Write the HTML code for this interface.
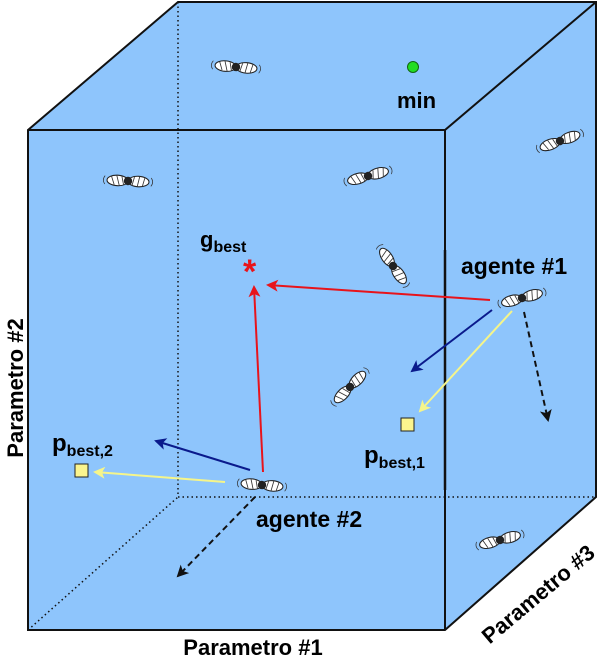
<!DOCTYPE html>
<html><head><style>body{margin:0;background:#fff}svg{display:block}text{font-family:"Liberation Sans",sans-serif;font-weight:bold;fill:#000}</style></head><body>
<svg width="600" height="657" viewBox="0 0 600 657">
<defs>
<g id="d">
<ellipse cx="-10" cy="0" rx="10" ry="5" fill="#fff" stroke="#222" stroke-width="1"/>
<ellipse cx="10" cy="0" rx="10" ry="5" fill="#fff" stroke="#222" stroke-width="1"/>
<path d="M-16 -4 L-13 4 M-11 -5 L-8 5 M-6 -4 L-4 4 M6 -4 L4 4 M11 -5 L9 5 M16 -4 L14 4" stroke="#333" stroke-width="0.8"/>
<path d="M-22 -4 Q-25 0 -22 4 M22 -4 Q25 0 22 4" stroke="#333" fill="none" stroke-width="0.7"/>
<circle r="4" fill="#222"/>
</g>
<marker id="ar" markerWidth="12" markerHeight="12" refX="10" refY="6" orient="auto" markerUnits="userSpaceOnUse"><path d="M0 0 L12 6 L0 12 L3 6Z" fill="#e8141b"/></marker>
<marker id="ab" markerWidth="12" markerHeight="12" refX="10" refY="6" orient="auto" markerUnits="userSpaceOnUse"><path d="M0 0 L12 6 L0 12 L3 6Z" fill="#0a1a8c"/></marker>
<marker id="ay" markerWidth="12" markerHeight="12" refX="10" refY="6" orient="auto" markerUnits="userSpaceOnUse"><path d="M0 0 L12 6 L0 12 L3 6Z" fill="#f5f58a"/></marker>
<marker id="ak" markerWidth="12" markerHeight="12" refX="10" refY="6" orient="auto" markerUnits="userSpaceOnUse"><path d="M0 0 L12 6 L0 12 L3 6Z" fill="#111"/></marker>
</defs>
<polygon points="28,130 178,2 596,2 596,497 445,630 28,630" fill="#8ec5fc"/>
<g stroke="#111" stroke-width="1.5" stroke-dasharray="1.5,3" fill="none">
<line x1="178" y1="2" x2="178" y2="497"/><line x1="178" y1="497" x2="596" y2="497"/><line x1="28" y1="630" x2="178" y2="497"/>
</g>
<g stroke="#111" stroke-width="2" fill="none">
<polygon points="28,130 178,2 596,2 596,497 445,630 28,630"/>
<polyline points="28,130 445,130 596,2"/><line x1="445" y1="130" x2="445" y2="630"/>
<line x1="445" y1="250" x2="445" y2="490" stroke-width="2.5"/>
</g>
<circle cx="413" cy="67" r="5.5" fill="#22dd22" stroke="#116611"/>
<text x="397" y="108" font-size="22">min</text>
<use href="#d" transform="translate(236,67) rotate(5) scale(1.05)"/>
<use href="#d" transform="translate(128,181) rotate(3) scale(1.05)"/>
<use href="#d" transform="translate(368,176) rotate(-15) scale(1.05)"/>
<use href="#d" transform="translate(560,141) rotate(-20) scale(1.05)"/>
<use href="#d" transform="translate(393,266) rotate(55) scale(1.05)"/>
<use href="#d" transform="translate(522,298) rotate(-15) scale(1.05)"/>
<use href="#d" transform="translate(350,387) rotate(-45) scale(1.05)"/>
<use href="#d" transform="translate(262,485) rotate(5) scale(1.05)"/>
<use href="#d" transform="translate(500,540) rotate(-15) scale(1.05)"/>
<text x="200" y="247" font-size="22">g<tspan font-size="16" dy="5">best</tspan></text>
<text x="243" y="283" font-size="34" style="fill:#e8141b">*</text>
<text x="461" y="274" font-size="23">agente #1</text>
<text x="256" y="527" font-size="23">agente #2</text>
<line x1="490" y1="300" x2="268" y2="285" stroke="#e8141b" stroke-width="2" marker-end="url(#ar)"/>
<line x1="263" y1="472" x2="254" y2="287" stroke="#e8141b" stroke-width="2" marker-end="url(#ar)"/>
<line x1="492" y1="310" x2="412" y2="371" stroke="#0a1a8c" stroke-width="2" marker-end="url(#ab)"/>
<line x1="512" y1="311" x2="420" y2="411" stroke="#f5f58a" stroke-width="2" marker-end="url(#ay)"/>
<line x1="524" y1="312" x2="548" y2="420" stroke="#111" stroke-width="2" stroke-dasharray="6,4" marker-end="url(#ak)"/>
<rect x="401" y="418" width="13" height="13" fill="#fbf58e" stroke="#222"/>
<text x="364" y="463" font-size="24">p<tspan font-size="16" dy="5">best,1</tspan></text>
<line x1="250" y1="470" x2="156" y2="441" stroke="#0a1a8c" stroke-width="2" marker-end="url(#ab)"/>
<line x1="225" y1="482" x2="95" y2="472" stroke="#f5f58a" stroke-width="2" marker-end="url(#ay)"/>
<rect x="75" y="464" width="13" height="13" fill="#fbf58e" stroke="#222"/>
<text x="52" y="451" font-size="24">p<tspan font-size="16" dy="5">best,2</tspan></text>
<line x1="255" y1="497" x2="178" y2="576" stroke="#111" stroke-width="2" stroke-dasharray="6,4" marker-end="url(#ak)"/>
<text x="253" y="655" font-size="22" text-anchor="middle">Parametro #1</text>
<text transform="translate(23,388) rotate(-90)" font-size="22" text-anchor="middle">Parametro #2</text>
<text transform="translate(543,600) rotate(-40)" font-size="22" text-anchor="middle">Parametro #3</text>
</svg>
</body></html>
